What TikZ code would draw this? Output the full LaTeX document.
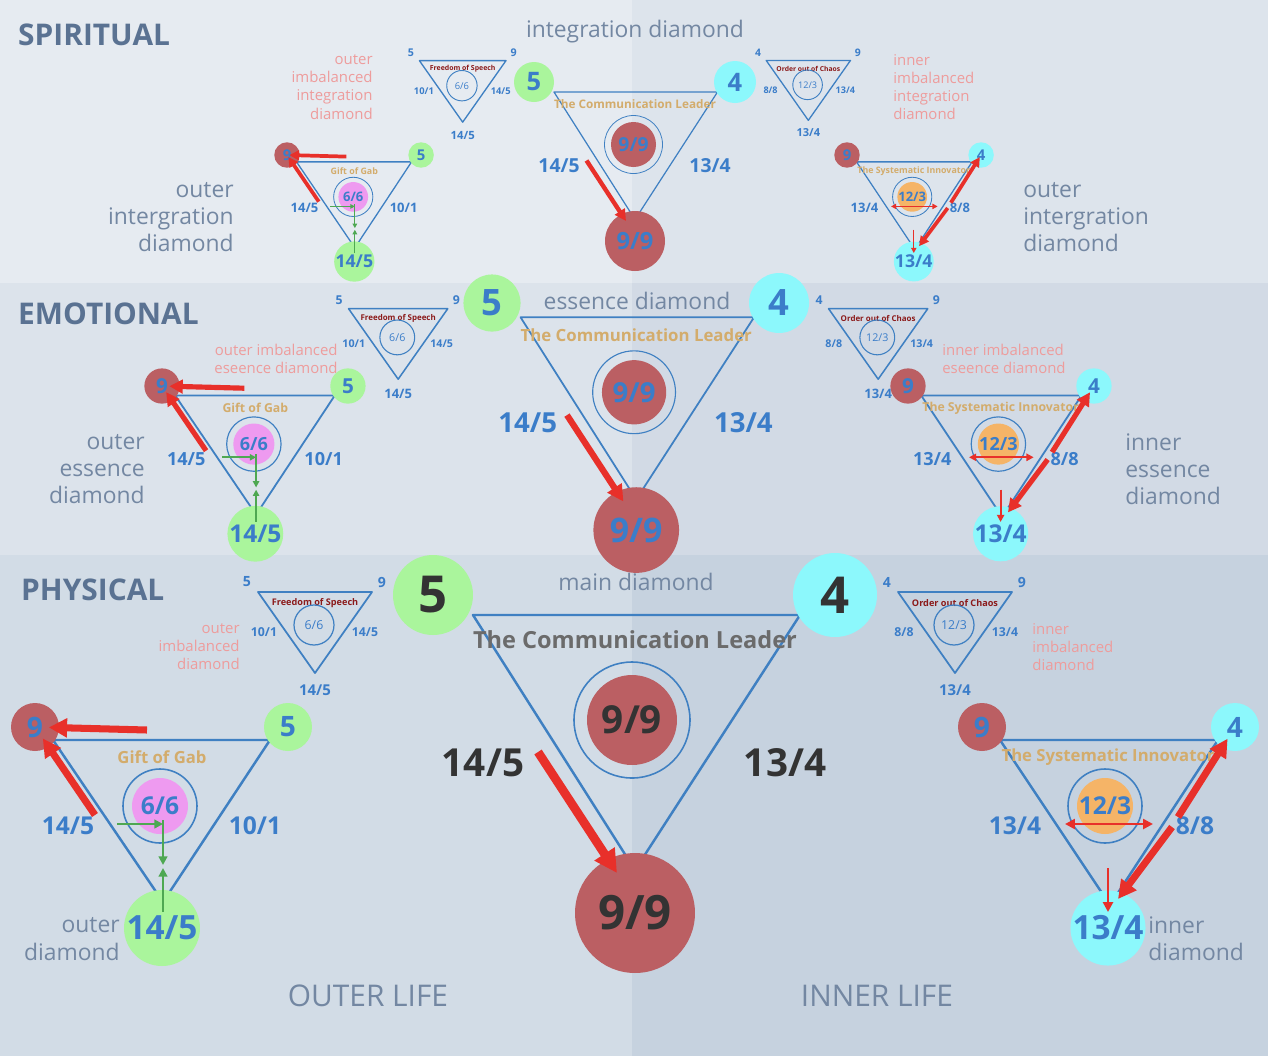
\documentclass[tikz,border=0pt]{standalone}
\usepackage{fontspec}
\setmainfont{Open Sans}
\usetikzlibrary{arrows.meta}
\definecolor{cred}{HTML}{BB5F63}
\definecolor{cgreen}{HTML}{AAF59C}
\definecolor{ccyan}{HTML}{8CF8FC}
\definecolor{cpink}{HTML}{EE9AF0}
\definecolor{corange}{HTML}{F5B467}
\definecolor{triblue}{HTML}{3F80C2}
\definecolor{numblue}{HTML}{3B7DC9}
\definecolor{tan}{HTML}{D3AC6C}
\definecolor{pinktext}{HTML}{EE9C9C}
\definecolor{arrowred}{HTML}{E8302A}
\definecolor{greenline}{HTML}{4EA852}
\definecolor{head}{HTML}{5A7292}
\definecolor{darknum}{HTML}{333333}
\definecolor{darkred}{HTML}{8B1A1A}
\newcommand\fs[1]{\fontsize{#1}{#1}\selectfont}
\tikzset{
  dot/.style={circle,inner sep=0pt,text=numblue,font=\bfseries},
  tri/.style={draw=triblue,line join=round},
  ring/.style={draw=triblue},
  num/.style={text=numblue,font=\bfseries},
  redarrow/.style={draw=arrowred,-{Triangle[length={0pt 2.6},width={0pt 2.6}]},shorten >=-6pt},
  thinred/.style={draw=arrowred,-{Triangle[length={0pt 4},width={0pt 4}]}},
  grn/.style={draw=greenline,-{Triangle[length={0pt 3.5},width={0pt 3.5}]}},
  pinky/.style={text=pinktext,font=\fontsize{8.5}{10.3}\selectfont,align=#1,inner sep=0pt},
  grey/.style={text=head!85!white,font=\fontsize{13}{15.5}\selectfont,align=#1,inner sep=0pt},
  level/.style={text=head,font=\bfseries\fs{17},anchor=west},
}
% main diamond: prefix, x, y, scale, number colour, title colour
\newcommand\maindia[6]{%
\begin{scope}[shift={(#2,#3)},scale=#4,transform shape]
  \draw[tri,line width={1.4pt*#4}] (40,20) -- (367,20) -- (202,275) -- cycle;
  \node[dot,fill=cgreen,minimum size=1.6cm,text=#5,font=\bfseries\fs{29}] (#1-l) at (0,0) {5};
  \node[dot,fill=ccyan,minimum size=1.68cm,text=#5,font=\bfseries\fs{29}] (#1-r) at (402,0) {4};
  \node[dot,fill=cred,minimum size=2.4cm,text=#5,font=\bfseries\fs{27}] (#1-b) at (202,318) {9/9};
  \draw[ring,line width={0.9pt*#4}] (199,125) circle[radius=58];
  \node[dot,fill=cred,minimum size=1.8cm,text=#5,font=\bfseries\fs{22}] (#1-c) at (199,125) {9/9};
  \node[text=#6,font=\bfseries\fs{13.4}] (#1-t) at (202,45) {The Communication Leader};
  \node[text=#5,font=\bfseries\fs{22}] (#1-sl) at (50,168) {14/5};
  \node[text=#5,font=\bfseries\fs{22}] (#1-sr) at (352,168) {13/4};
  \coordinate (#1-a1) at (105,157);
  \coordinate (#1-a2) at (184,278);
  \draw[redarrow,shorten >=0pt,line width={5pt*#4}] (#1-a1) -- (#1-a2);
\end{scope}}
% outer (left) diamond
\newcommand\outerdia[4]{%
\begin{scope}[shift={(#2,#3)},scale=#4,transform shape]
  \draw[tri,line width={1.4pt*#4}] (18,13) -- (235,13) -- (128,175) -- cycle;
  \node[dot,fill=cred,minimum size=0.96cm,font=\bfseries\fs{16}] (#1-l) at (0,0) {9};
  \node[dot,fill=cgreen,minimum size=0.96cm,font=\bfseries\fs{16}] (#1-r) at (253,0) {5};
  \node[dot,fill=cgreen,minimum size=1.52cm,font=\bfseries\fs{19}] (#1-b) at (127,201) {14/5};
  \draw[ring,line width={0.9pt*#4}] (125,79) circle[radius=37];
  \node[dot,fill=cpink,minimum size=1.12cm,font=\bfseries\fs{14}] (#1-c) at (125,79) {6/6};
  \node[text=tan,font=\bfseries\fs{9.5}] (#1-t) at (127,30) {Gift of Gab};
  \node[num,font=\bfseries\fs{14}] (#1-sl) at (33,99) {14/5};
  \node[num,font=\bfseries\fs{14}] (#1-sr) at (220,99) {10/1};
  \draw[redarrow,line width={4pt*#4}] (112,3) -- (#1-l);
  \draw[redarrow,line width={4pt*#4}] (60,88) -- (#1-l);
  \draw[grn,line width={1.4pt*#4}] (82,97) -- (128,97);
  \draw[grn,line width={1.4pt*#4}] (128,93) -- (128,138);
  \draw[grn,line width={1.4pt*#4}] (128,185) -- (128,141);
\end{scope}}
% inner (right) diamond
\newcommand\innerdia[4]{%
\begin{scope}[shift={(#2,#3)},scale=#4,transform shape]
  \draw[tri,line width={1.4pt*#4}] (18,13) -- (236,13) -- (128,178) -- cycle;
  \node[dot,fill=cred,minimum size=0.96cm,font=\bfseries\fs{16}] (#1-l) at (0,0) {9};
  \node[dot,fill=ccyan,minimum size=0.96cm,font=\bfseries\fs{16}] (#1-r) at (253,0) {4};
  \node[dot,fill=ccyan,minimum size=1.44cm,font=\bfseries\fs{19}] (#1-b) at (126,201) {13/4};
  \draw[ring,line width={0.9pt*#4}] (123,79) circle[radius=37];
  \node[dot,fill=corange,minimum size=1.12cm,font=\bfseries\fs{14}] (#1-c) at (123,79) {12/3};
  \node[text=tan,font=\bfseries\fs{9.5}] (#1-t) at (126,30) {The Systematic Innovator};
  \node[num,font=\bfseries\fs{14}] (#1-sl) at (33,99) {13/4};
  \node[num,font=\bfseries\fs{14}] (#1-sr) at (213,99) {8/8};
  \draw[redarrow,line width={4pt*#4}] (196,90) -- (#1-r);
  \draw[redarrow,shorten >=0pt,line width={4pt*#4}] (190,100) -- (136,172);
  \draw[draw=arrowred,line width={1.4pt*#4},{Triangle[length={0pt 4},width={0pt 4}]}-{Triangle[length={0pt 4},width={0pt 4}]}] (83,97) -- (171,97);
  \draw[thinred,line width={1.4pt*#4}] (126,141) -- (126,185);
\end{scope}}
% small imbalanced diamonds
\newcommand\outerimb[4]{%
\begin{scope}[shift={(#2,#3)},scale=#4,transform shape]
  \draw[tri,line width={1pt*#4}] (11,10) -- (125,10) -- (68,91) -- cycle;
  \node[num,font=\bfseries\fs{8}] (#1-l) at (0,0) {5};
  \node[num,font=\bfseries\fs{8}] (#1-r) at (135,0) {9};
  \node[text=darkred,font=\bfseries\fs{5.2}] (#1-t) at (68,21) {Freedom of Speech};
  \draw[ring,line width={0.7pt*#4}] (67,43) circle[radius=20];
  \node[text=numblue,font=\fs{7}] (#1-c) at (67,43) {6/6};
  \node[num,font=\bfseries\fs{7}] (#1-sl) at (17,50) {10/1};
  \node[num,font=\bfseries\fs{7}] (#1-sr) at (118,50) {14/5};
  \node[num,font=\bfseries\fs{8.5}] (#1-b) at (68,108) {14/5};
\end{scope}}
\newcommand\innerimb[4]{%
\begin{scope}[shift={(#2,#3)},scale=#4,transform shape]
  \draw[tri,line width={1pt*#4}] (11,10) -- (125,10) -- (68,91) -- cycle;
  \node[num,font=\bfseries\fs{8}] (#1-l) at (0,0) {4};
  \node[num,font=\bfseries\fs{8}] (#1-r) at (135,0) {9};
  \node[text=darkred,font=\bfseries\fs{5.2}] (#1-t) at (68,21) {Order out of Chaos};
  \draw[ring,line width={0.7pt*#4}] (67,43) circle[radius=20];
  \node[text=numblue,font=\fs{7}] (#1-c) at (67,43) {12/3};
  \node[num,font=\bfseries\fs{7}] (#1-sl) at (17,50) {8/8};
  \node[num,font=\bfseries\fs{7}] (#1-sr) at (118,50) {13/4};
  \node[num,font=\bfseries\fs{8.5}] (#1-b) at (68,108) {13/4};
\end{scope}}

\begin{document}
\begin{tikzpicture}[x=0.02cm,y=-0.02cm]
  \useasboundingbox (0,0) rectangle (1268,1056);
  % bands
  \fill[fill={rgb,255:red,230;green,235;blue,241}] (0,0) rectangle (632,283);
  \fill[fill={rgb,255:red,221;green,228;blue,236}] (632,0) rectangle (1268,283);
  \fill[fill={rgb,255:red,220;green,227;blue,235}] (0,283) rectangle (632,555);
  \fill[fill={rgb,255:red,210;green,218;blue,229}] (632,283) rectangle (1268,555);
  \fill[fill={rgb,255:red,210;green,220;blue,230}] (0,555) rectangle (632,1056);
  \fill[fill={rgb,255:red,198;green,210;blue,223}] (632,555) rectangle (1268,1056);

  % level headings
  \node[level] (spirit) at (12,35) {SPIRITUAL};
  \node[level] (emot) at (12,314) {EMOTIONAL};
  \node[level] (phys) at (15,590) {PHYSICAL};
  \node[grey=center] (intd) at (635,32) {integration diamond};
  \node[grey=center] (essd) at (637,301) {essence diamond};
  \node[grey=center] (maind) at (636,582) {main diamond};
  \node[text=head!85!white,font=\fs{17}] (outl) at (368,996) {OUTER LIFE};
  \node[text=head!85!white,font=\fs{17}] (innl) at (877,996) {INNER LIFE};

  % physical
  \maindia{pm}{433}{595}{1}{darknum}{black!58}
  \outerdia{po}{35}{727}{1}
  \innerdia{pi}{982}{727}{1}
  \outerimb{pso}{247}{582}{1}
  \innerimb{psi}{887}{582}{1}
  % emotional
  \maindia{em}{492}{303}{0.714}{numblue}{tan}
  \outerdia{eo}{162}{386}{0.735}
  \innerdia{ei}{908}{386}{0.735}
  \outerimb{eso}{339}{300}{0.87}
  \innerimb{esi}{819}{300}{0.87}
  % spiritual
  \maindia{sm}{534}{82}{0.5}{numblue}{tan}
  \outerdia{so}{287}{155}{0.53}
  \innerdia{si}{847}{155}{0.53}
  \outerimb{sso}{411}{53}{0.76}
  \innerimb{ssi}{758}{53}{0.74}

  % side captions
  \node[grey=right,anchor=east] (poc) at (120,939) {outer\\diamond};
  \node[grey=left,anchor=west] (pic) at (1148,939) {inner\\diamond};
  \node[grey=right,anchor=east] (eoc) at (145,469) {outer\\essence\\diamond};
  \node[grey=left,anchor=west] (eic) at (1125,469) {inner\\essence\\diamond};
  \node[grey=right,anchor=east] (soc) at (234,217) {outer\\intergration\\diamond};
  \node[grey=left,anchor=west] (sic) at (1023,217) {outer\\intergration\\diamond};
  \node[pinky=right,anchor=east] (psoc) at (240,647) {outer\\imbalanced\\diamond};
  \node[pinky=left,anchor=west] (psic) at (1032,647) {inner\\imbalanced\\diamond};
  \node[pinky=right,anchor=east] (esoc) at (338,359) {outer imbalanced\\eseence diamond};
  \node[pinky=left,anchor=west] (esic) at (942,359) {inner imbalanced\\eseence diamond};
  \node[pinky=right,anchor=east] (ssoc) at (373,87) {outer\\imbalanced\\integration\\diamond};
  \node[pinky=left,anchor=west] (ssic) at (893,87) {inner\\imbalanced\\integration\\diamond};
\end{tikzpicture}
\end{document}
